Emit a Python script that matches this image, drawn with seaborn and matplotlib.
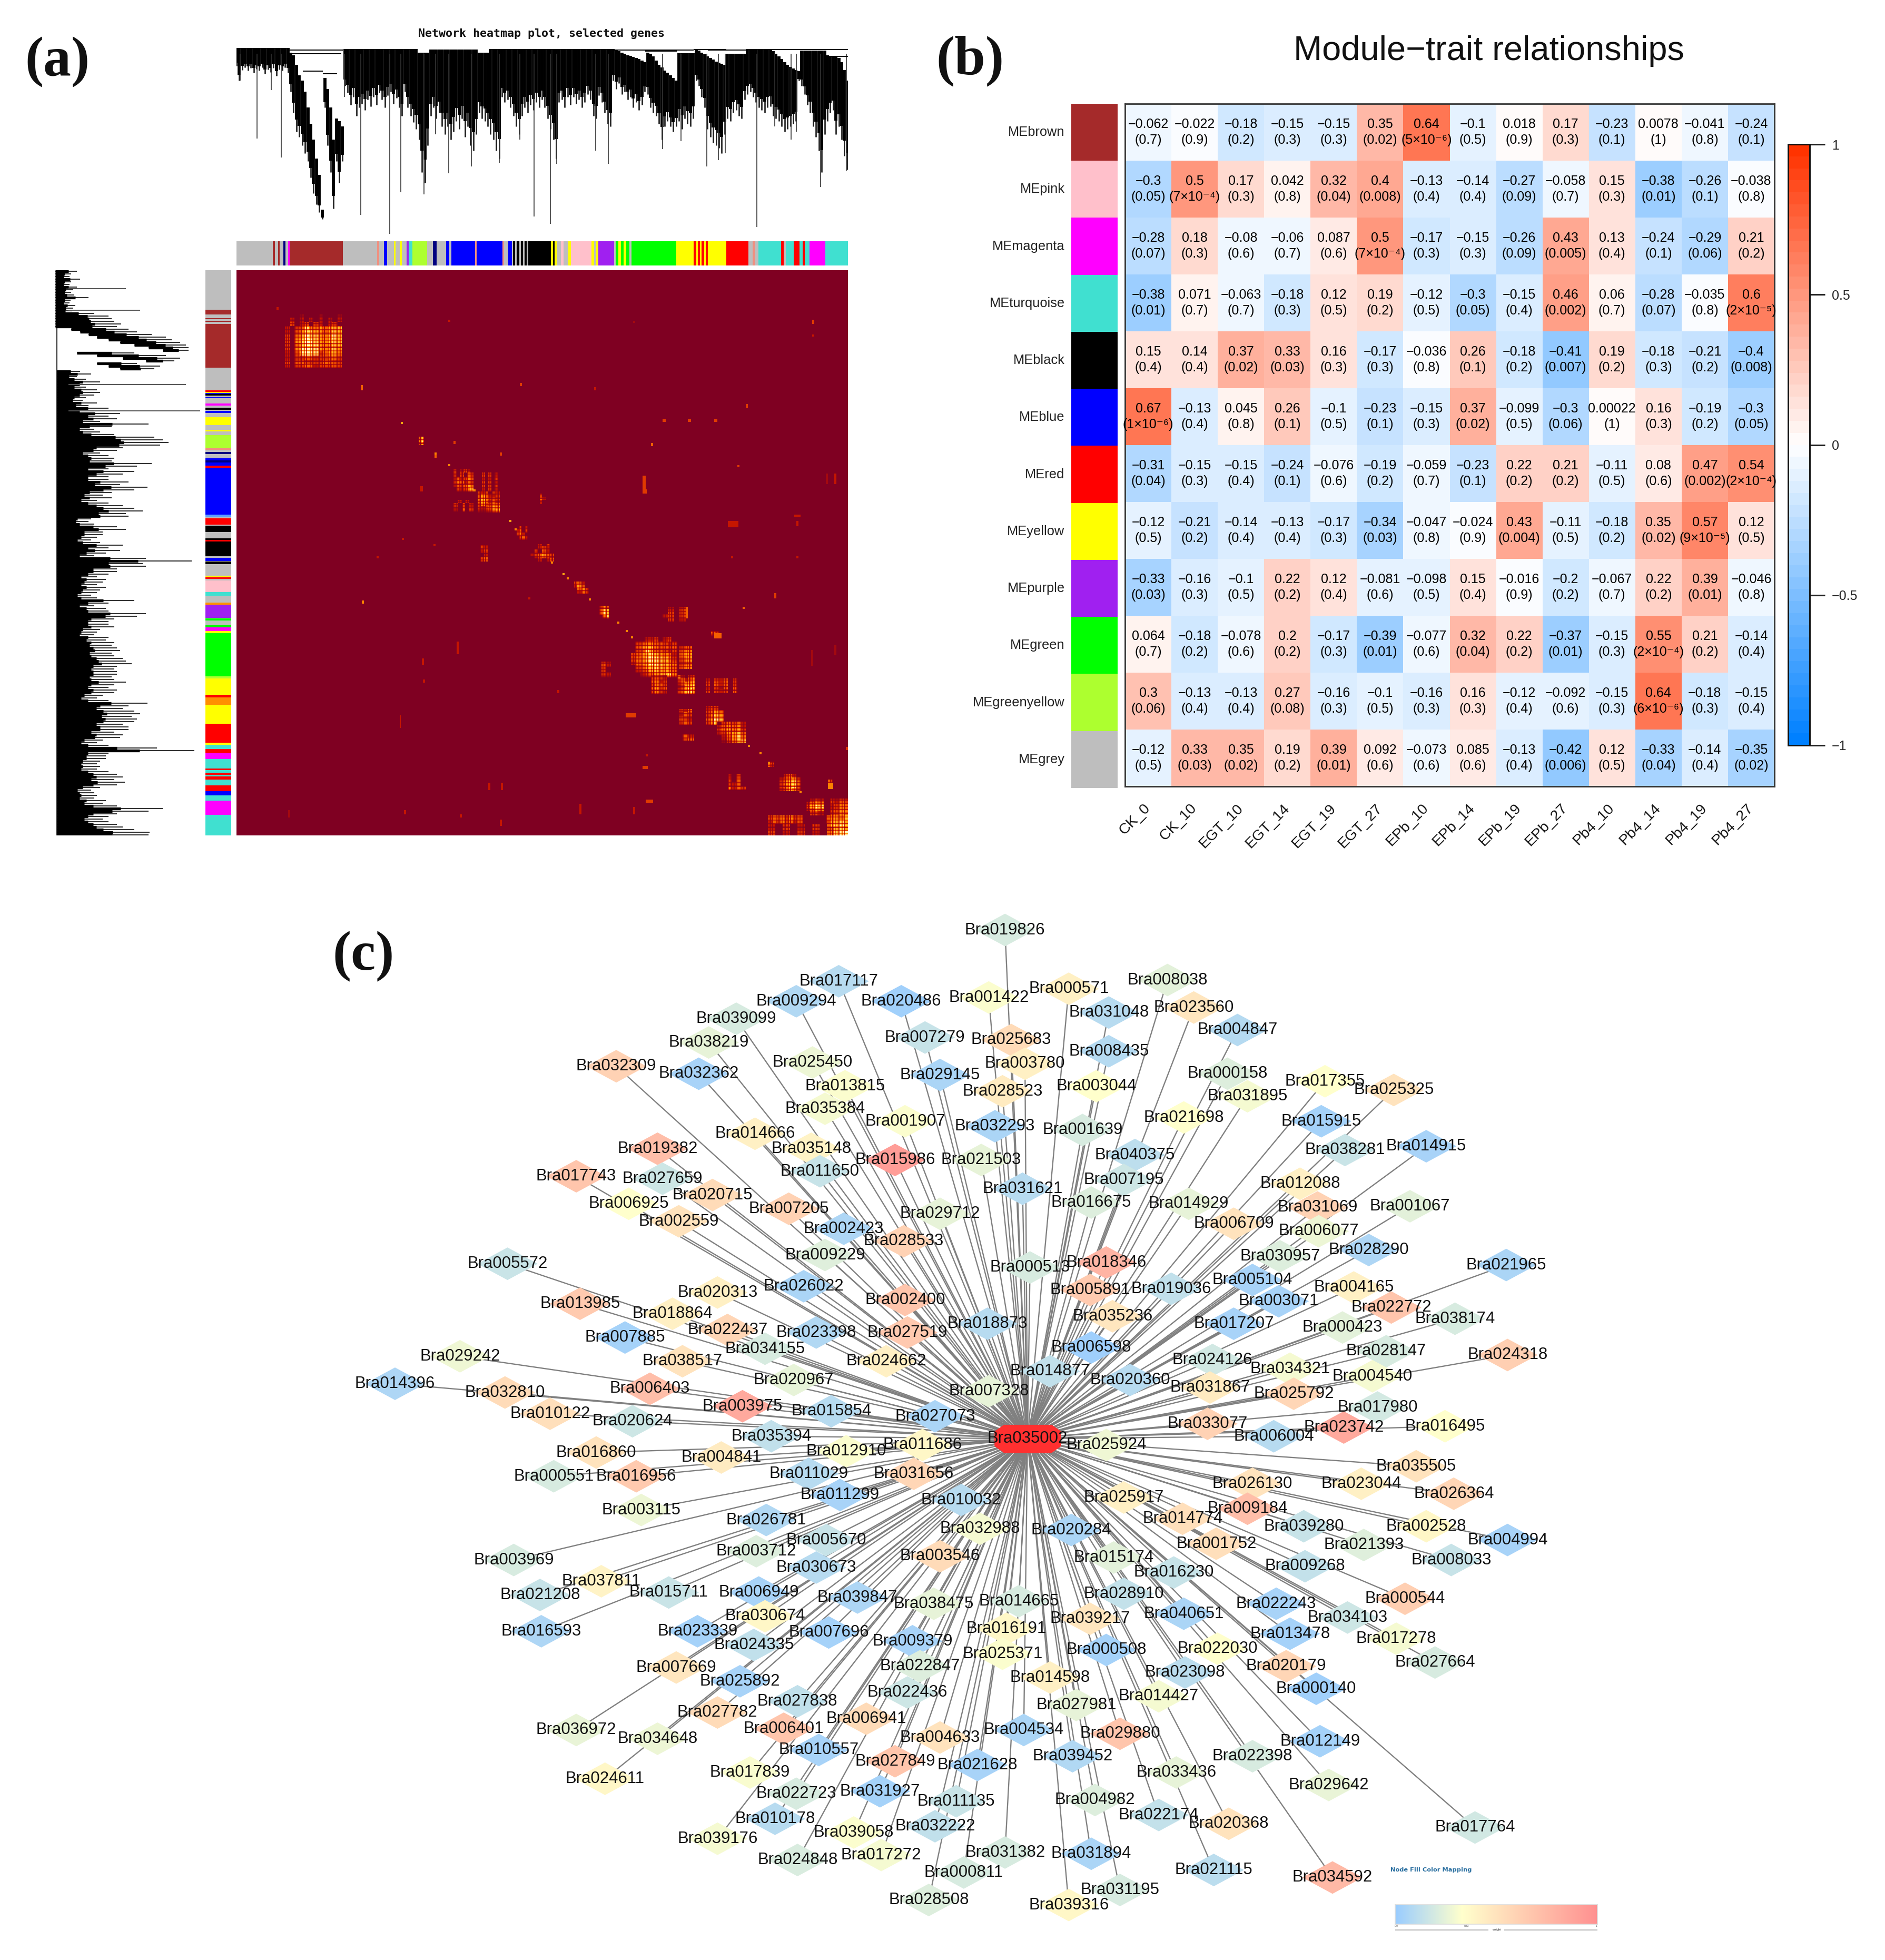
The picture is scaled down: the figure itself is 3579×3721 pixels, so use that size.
import numpy as np
import pandas as pd
import matplotlib
matplotlib.use("Agg")
import matplotlib.pyplot as plt
import seaborn as sns
from matplotlib.colors import LinearSegmentedColormap, ListedColormap
from matplotlib.path import Path

W, H = 3579, 3721

# ---- panel b data
traits = ["CK_0", "CK_10", "EGT_10", "EGT_14", "EGT_19", "EGT_27", "EPb_10", "EPb_14", "EPb_19", "EPb_27", "Pb4_10", "Pb4_14", "Pb4_19", "Pb4_27"]
modules = ["MEbrown", "MEpink", "MEmagenta", "MEturquoise", "MEblack", "MEblue", "MEred", "MEyellow", "MEpurple", "MEgreen", "MEgreenyellow", "MEgrey"]
module_colors = ["#A52A2A", "#FFC0CB", "#FF00FF", "#40E0D0", "#000000", "#0000FF", "#FF0000", "#FFFF00", "#A020F0", "#00FF00", "#ADFF2F", "#BEBEBE"]
corr_text = [
    "-0.062 -0.022 -0.18 -0.15 -0.15 0.35 0.64 -0.1 0.018 0.17 -0.23 0.0078 -0.041 -0.24",
    "-0.3 0.5 0.17 0.042 0.32 0.4 -0.13 -0.14 -0.27 -0.058 0.15 -0.38 -0.26 -0.038",
    "-0.28 0.18 -0.08 -0.06 0.087 0.5 -0.17 -0.15 -0.26 0.43 0.13 -0.24 -0.29 0.21",
    "-0.38 0.071 -0.063 -0.18 0.12 0.19 -0.12 -0.3 -0.15 0.46 0.06 -0.28 -0.035 0.6",
    "0.15 0.14 0.37 0.33 0.16 -0.17 -0.036 0.26 -0.18 -0.41 0.19 -0.18 -0.21 -0.4",
    "0.67 -0.13 0.045 0.26 -0.1 -0.23 -0.15 0.37 -0.099 -0.3 0.00022 0.16 -0.19 -0.3",
    "-0.31 -0.15 -0.15 -0.24 -0.076 -0.19 -0.059 -0.23 0.22 0.21 -0.11 0.08 0.47 0.54",
    "-0.12 -0.21 -0.14 -0.13 -0.17 -0.34 -0.047 -0.024 0.43 -0.11 -0.18 0.35 0.57 0.12",
    "-0.33 -0.16 -0.1 0.22 0.12 -0.081 -0.098 0.15 -0.016 -0.2 -0.067 0.22 0.39 -0.046",
    "0.064 -0.18 -0.078 0.2 -0.17 -0.39 -0.077 0.32 0.22 -0.37 -0.15 0.55 0.21 -0.14",
    "0.3 -0.13 -0.13 0.27 -0.16 -0.1 -0.16 0.16 -0.12 -0.092 -0.15 0.64 -0.18 -0.15",
    "-0.12 0.33 0.35 0.19 0.39 0.092 -0.073 0.085 -0.13 -0.42 0.12 -0.33 -0.14 -0.35",
]
pval_text = [
    "0.7 0.9 0.2 0.3 0.3 0.02 5×10⁻⁶ 0.5 0.9 0.3 0.1 1 0.8 0.1",
    "0.05 7×10⁻⁴ 0.3 0.8 0.04 0.008 0.4 0.4 0.09 0.7 0.3 0.01 0.1 0.8",
    "0.07 0.3 0.6 0.7 0.6 7×10⁻⁴ 0.3 0.3 0.09 0.005 0.4 0.1 0.06 0.2",
    "0.01 0.7 0.7 0.3 0.5 0.2 0.5 0.05 0.4 0.002 0.7 0.07 0.8 2×10⁻⁵",
    "0.4 0.4 0.02 0.03 0.3 0.3 0.8 0.1 0.2 0.007 0.2 0.3 0.2 0.008",
    "1×10⁻⁶ 0.4 0.8 0.1 0.5 0.1 0.3 0.02 0.5 0.06 1 0.3 0.2 0.05",
    "0.04 0.3 0.4 0.1 0.6 0.2 0.7 0.1 0.2 0.2 0.5 0.6 0.002 2×10⁻⁴",
    "0.5 0.2 0.4 0.4 0.3 0.03 0.8 0.9 0.004 0.5 0.2 0.02 9×10⁻⁵ 0.5",
    "0.03 0.3 0.5 0.2 0.4 0.6 0.5 0.4 0.9 0.2 0.7 0.2 0.01 0.8",
    "0.7 0.2 0.6 0.2 0.3 0.01 0.6 0.04 0.2 0.01 0.3 2×10⁻⁴ 0.2 0.4",
    "0.06 0.4 0.4 0.08 0.3 0.5 0.3 0.3 0.4 0.6 0.3 6×10⁻⁶ 0.3 0.4",
    "0.5 0.03 0.02 0.2 0.01 0.6 0.6 0.6 0.4 0.006 0.5 0.04 0.4 0.02",
]

# ---- panel a data: module colour bars (start of each segment)
module_hex = {"g": "#BEBEBE", "br": "#A52A2A", "bl": "#0000FF", "k": "#000000", "m": "#FF00FF", "r": "#FF0000", "y": "#FFFF00", "pi": "#FFC0CB",
              "pu": "#A020F0", "gn": "#00FF00", "gy": "#ADFF2F", "t": "#40E0D0", "n": "#000080", "o": "#FF9000", "sa": "#F09080", "lb": "#60A0FF"}
top_segments = [(414, "g"), (478, "br"), (481, "g"), (487, "br"), (490, "g"), (496, "n"), (500, "g"), (504, "m"), (507, "br"), (600, "g"), (660, "sa"), (664, "g"),
                (672, "bl"), (678, "g"), (690, "y"), (693, "g"), (700, "y"), (704, "g"), (712, "pu"), (716, "t"), (722, "gy"), (748, "g"), (758, "n"), (765, "g"),
                (781, "bl"), (787, "g"), (790, "bl"), (832, "sa"), (835, "bl"), (880, "sa"), (883, "g"), (890, "bl"), (896, "g"), (898, "k"), (902, "g"), (905, "k"),
                (909, "g"), (912, "k"), (916, "g"), (919, "k"), (922, "g"), (925, "k"), (965, "y"), (968, "k"), (971, "y"), (975, "g"), (982, "pi"), (987, "g"),
                (995, "y"), (1000, "pi"), (1036, "y"), (1040, "g"), (1044, "y"), (1048, "pu"), (1075, "g"), (1078, "gn"), (1083, "y"), (1087, "gn"), (1092, "y"),
                (1097, "gn"), (1102, "g"), (1106, "gn"), (1184, "y"), (1215, "r"), (1219, "y"), (1222, "r"), (1226, "y"), (1229, "r"), (1233, "y"), (1236, "r"),
                (1240, "y"), (1272, "r"), (1311, "g"), (1318, "sa"), (1322, "g"), (1328, "t"), (1368, "r"), (1372, "g"), (1376, "t"), (1390, "r"), (1400, "t"),
                (1406, "r"), (1409, "t"), (1418, "m"), (1445, "t")]
left_segments = [(513, "g"), (588, "br"), (597, "g"), (604, "br"), (606, "g"), (609, "br"), (611, "g"), (615, "br"), (698, "g"), (741, "r"), (744, "y"), (746, "bl"),
                 (748, "k"), (751, "g"), (754, "bl"), (756, "g"), (766, "m"), (770, "g"), (774, "k"), (778, "g"), (780, "bl"), (784, "g"), (792, "y"), (807, "g"),
                 (816, "y"), (819, "g"), (826, "gy"), (851, "sa"), (854, "g"), (858, "n"), (862, "g"), (870, "bl"), (874, "n"), (878, "bl"), (884, "r"), (888, "bl"),
                 (977, "lb"), (982, "g"), (984, "r"), (996, "g"), (998, "k"), (1010, "g"), (1022, "k"), (1025, "r"), (1028, "k"), (1056, "g"), (1059, "bl"), (1065, "g"),
                 (1066, "k"), (1071, "g"), (1093, "y"), (1095, "g"), (1096, "r"), (1099, "g"), (1102, "pi"), (1124, "t"), (1131, "g"), (1144, "o"), (1148, "pu"),
                 (1173, "g"), (1174, "gn"), (1178, "g"), (1187, "gn"), (1191, "m"), (1198, "y"), (1202, "gn"), (1284, "gy"), (1288, "y"), (1319, "r"), (1324, "o"),
                 (1338, "y"), (1374, "r"), (1410, "y"), (1414, "t"), (1422, "r"), (1430, "m"), (1441, "t"), (1459, "r"), (1462, "t"), (1467, "r"), (1471, "t"),
                 (1474, "r"), (1480, "t"), (1491, "r"), (1502, "bl"), (1510, "t"), (1520, "m"), (1547, "t")]

# clusters of the topological overlap map: x0, x1, y0, y1, then rows of strength digits
heat_blocks = [
    (542, 650, 597, 699, ["000100010001", "020202020202", "030230320230", "203485564677", "204688764687", "305798865797", "306899865787", "305899965687", "306999965686", "204999934675", "203344333453", "304433334443", "203344233343"]),
    (795, 810, 830, 846, ["470", "580", "360"]),
    (862, 900, 892, 933, ["402420", "303043", "242354", "354243", "243465", "032357"]),
    (911, 945, 898, 933, ["030302", "020203", "030302", "030303", "020302"]),
    (908, 949, 933, 973, ["323032", "464223", "575343", "464242", "353354", "323476", "212367"]),
    (862, 900, 949, 971, ["02020", "30302", "20403"]),
    (1025, 1035, 938, 957, ["30", "42", "20"]),
    (981, 1003, 1000, 1025, ["0302", "2403", "3520", "0342"]),
    (1008, 1052, 1033, 1066, ["002030", "002320", "030420", "234643", "023432", "002024"]),
    (911, 927, 1035, 1066, ["32", "23", "02", "34"]),
    (1090, 1117, 1103, 1127, ["3420", "2640", "0463", "0253"]),
    (1138, 1162, 1150, 1173, ["3640", "4870", "4970", "0580"]),
    (1198, 1285, 1210, 1285, ["0002230230", "0345544323", "0467754434", "0348644323", "3467876542", "3568998753", "2567998765", "0346787654", "0234676654", "0023467785"]),
    (1290, 1314, 1225, 1270, ["34", "45", "56", "46", "34", "45"]),
    (1141, 1160, 1255, 1285, ["42", "30", "32"]),
    (1285, 1320, 1282, 1318, ["62034", "35246", "24567", "13678", "24687", "35786"]),
    (1236, 1266, 1282, 1318, ["3432", "4523", "3543", "4634", "3532"]),
    (1339, 1409, 1288, 1315, ["20324030", "30424030", "20314040", "30323040"]),
    (1258, 1301, 1152, 1180, ["0203", "0303", "2303", "0302"]),
    (1350, 1366, 1198, 1207, ["43", "32"]),
    (1339, 1382, 1340, 1375, ["23300", "34640", "35860", "46970", "35860"]),
    (1361, 1415, 1370, 1410, ["034342", "245452", "356563", "235674", "024685", "013578"]),
    (1290, 1322, 1345, 1375, ["3240", "2430", "4320", "3430"]),
    (1295, 1318, 1393, 1405, ["42", "34"]),
    (1480, 1520, 1470, 1502, ["03420", "24563", "36785", "35784", "24653"]),
    (1382, 1415, 1470, 1499, ["2030", "3040", "3240", "5243"]),
    (1571, 1582, 1480, 1495, ["43", "54"]),
    (1458, 1469, 1445, 1456, ["53", "42"]),
    (1529, 1572, 1516, 1547, ["02430", "24650", "36980", "24760", "03420"]),
    (1575, 1610, 1516, 1547, ["3243", "2354", "3465"]),
    (1567, 1610, 1548, 1586, ["45657", "36786", "47897", "34786", "45899"]),
    (1458, 1523, 1548, 1564, ["34453534", "24353424"]),
    (1458, 1570, 1564, 1586, ["20302030", "30203020"]),
]
# the clusters are striped, not solid
stripe_cols = [1, 1, .55, 1, .3, .8, 1, .45, 1, .7, .25, 1, .9, .5, 1, .35, 1]
stripe_rows = [1, .6, 1, 1, .4, .9, 1, .7, .35, 1, 1, .55, 1]
spot_x = [685, 987, 1542, 1542, 1201, 851, 526, 1415, 1127, 1258, 1306, 1355, 862, 1236, 826, 949, 797, 1220, 1220, 1399, 1583, 1567, 1382, 1507, 1512, 764, 824, 716, 1388, 1512, 687, 1469, 1003, 759, 1409, 1301, 867, 802, 804, 1057, 1187, 1355, 1540, 1583, 1225, 1220, 1572, 927, 952, 1225, 1100, 1201, 873, 949, 768, 548, 1605,
          761, 826, 851, 900, 968, 978, 1046, 1068, 1076, 1117, 1171, 1187, 1198, 1420, 1442, 1458, 1517]
spot_y = [732, 727, 607, 635, 610, 607, 583, 768, 736, 796, 796, 796, 838, 841, 860, 860, 924, 903, 929, 884, 900, 900, 990, 978, 990, 1021, 1033, 1055, 1055, 1056, 1140, 1125, 1133, 1358, 1152, 1152, 1217, 1250, 1290, 1310, 1353, 1201, 1234, 1223, 1432, 1453, 1486, 1486, 1486, 1518, 1526, 1532, 1545, 1556, 1537, 1537, 1418,
          802, 860, 881, 930, 987, 1003, 1066, 1087, 1095, 1136, 1180, 1196, 1207, 1413, 1427, 1445, 1502]
spot_w = [4, 4, 4, 4, 4, 4, 4, 4, 4, 6, 6, 6, 4, 4, 4, 4, 6, 6, 8, 4, 4, 4, 20, 12, 4, 4, 4, 4, 4, 4, 4, 4, 4, 3, 4, 4, 4, 4, 4, 4, 20, 14, 4, 4, 4, 10, 10, 4, 4, 14, 4, 4, 4, 4, 4, 4, 4,
          5, 5, 5, 5, 5, 5, 5, 5, 5, 5, 5, 5, 5, 5, 5, 5, 5]
spot_h = [10, 6, 8, 4, 4, 4, 6, 8, 6, 6, 6, 6, 6, 6, 10, 6, 10, 30, 8, 4, 20, 20, 12, 4, 10, 4, 4, 4, 4, 4, 6, 10, 4, 24, 5, 22, 25, 12, 6, 6, 8, 10, 30, 20, 4, 6, 12, 15, 15, 6, 20, 15, 6, 12, 8, 15, 6,
          5, 5, 5, 5, 5, 5, 5, 5, 5, 5, 5, 5, 5, 5, 5, 5, 5]
spot_v = [4, 3, 3, 2, 1, 2, 2, 3, 2, 3, 3, 3, 3, 4, 4, 3, 2, 3, 3, 3, 2, 1, 2, 2, 2, 2, 2, 2, 2, 2, 5, 3, 2, 2, 4, 4, 2, 2, 2, 2, 3, 4, 1, 1, 2, 3, 5, 2, 2, 3, 2, 2, 2, 2, 2, 1, 3,
          6, 5, 5, 5, 6, 5, 5, 6, 5, 5, 5, 5, 5, 5, 5, 5, 5]

# top dendrogram, in 5 unit steps
den_tip = [245, 300, 260, 250, 262, 252, 270, 256, 262, 250, 275, 258, 268, 252, 282, 258, 262, 250, 270,
           340, 420, 490, 510, 540, 570, 600, 660, 720, 760, 790, 815, 400, 540, 640, 775, 600, 680, 600,
           320, 345, 390, 360, 430, 400, 385, 410, 370, 395, 360, 390, 345, 370, 400, 355, 340, 385, 365, 400,
           430, 340, 400, 430, 455, 480, 520, 640, 680, 540, 430, 400, 440, 420, 470, 500, 470, 520, 490, 450,
           480, 440, 510, 470, 540, 560, 500, 420, 440, 450, 470, 500, 520, 560, 590, 360, 380, 370, 400, 430,
           470, 500, 430, 400, 420, 390, 410, 380, 400, 370, 400, 440, 480, 520, 590, 380, 370, 400, 360, 390,
           360, 385, 370, 400, 380, 350, 370, 430, 440, 355, 380, 420, 460, 470, 300, 330, 310, 350, 340, 370,
           360, 400, 380, 410, 390, 340, 350, 400, 420, 430, 460, 520, 470, 450, 470, 490, 470, 450, 480, 440,
           460, 470, 440, 300, 320, 360, 400, 480, 510, 530, 540, 550, 570, 500, 440, 450, 420, 410, 430, 440,
           370, 350, 340, 360, 380, 400, 410, 420, 400, 395, 430, 440, 450, 470, 490, 480, 470, 460, 450, 300,
           320, 350, 390, 420, 470, 510, 560, 640, 500, 450, 420, 410, 500, 470, 520, 580, 630]
den_top = [178] * 19 + [195, 205, 240, 280, 300, 340, 400, 460, 520, 590, 650, 780, 290, 330, 400, 520, 440, 450, 470] \
    + [182] * 26 + [195] * 4 + [184] * 17 + [195] * 4 + [182] * 44 \
    + [186, 190, 195, 200, 205, 208, 212, 216, 220, 225, 230] + [195, 200, 210, 225, 240, 250, 262, 270, 280, 290, 300] + [198] * 6 \
    + [182, 188, 195, 202, 210, 215, 222, 228, 232, 236, 240] + [200] * 7 + [182] * 8 \
    + [186, 190, 200, 210, 220, 230, 240, 248, 255, 260, 265] + [188] * 9 + [205, 208, 210, 212, 215, 230, 260, 300]
spike_x = [450, 492, 632, 682, 702, 786, 825, 874, 935, 964, 975, 1043, 1065, 1238, 1258, 1325, 1437, 1395, 910, 1160, 1193, 1357, 1385, 1270, 1482, 763, 742, 420, 475, 603]
spike_end = [515, 585, 800, 870, 715, 645, 620, 605, 805, 832, 610, 560, 610, 620, 595, 845, 695, 490, 520, 555, 525, 470, 520, 570, 635, 500, 722, 300, 335, 360]
link_x0 = [505, 530, 505, 1130, 1240, 1345, 1075, 1445, 565, 1215]
link_x1 = [600, 565, 598, 1185, 1310, 1485, 1215, 1485, 590, 1272]
link_y = [185, 265, 200, 190, 185, 184, 186, 210, 275, 183]

# left dendrogram, one value per 5 px going down from y = 515
side_start = [97] * 22 + [125, 140, 155, 170, 190, 210, 235, 260, 285, 135, 170, 215, 255, 170, 190, 210]
side_reach = [135, 125, 122, 140, 125, 122, 135, 128, 125, 130, 155, 124, 122, 132, 128, 126, 165, 190, 195, 200, 212, 205,
              225, 240, 265, 290, 300, 315, 325, 330, 330, 235, 290, 315, 305, 240, 280, 270,
              140, 160, 135, 150, 175, 165, 150, 170, 175, 165, 150, 145, 170, 155, 190, 165, 210, 190, 205, 175,
              260, 195, 165, 175, 200, 270, 285, 295, 280, 215, 205, 175, 190, 200, 195, 265, 240, 190, 235, 215, 190, 190, 225, 210, 258, 235, 195, 180, 195, 170,
              190, 215, 235, 250, 220, 225, 160, 155, 165, 205, 220, 180, 180, 170, 160, 175, 215, 190, 210, 185, 165, 255, 335, 250, 255, 205, 205, 190, 170, 185,
              180, 170, 185, 175, 170, 160, 170, 235, 190, 165, 185, 190, 255, 240, 200, 190, 190, 200, 175, 170, 165, 190, 185, 200, 195, 205, 210, 195, 200, 215,
              220, 230, 205, 200, 205, 205, 195, 200, 220, 200, 190, 205, 200, 180, 170, 190, 258, 225, 215, 235, 245, 230, 240, 235, 215, 225, 225, 200, 215, 210,
              180, 170, 190, 275, 340, 190, 185, 185, 175, 170, 175, 170, 190, 205, 215, 200, 218, 205, 175, 160, 165, 170, 165, 185, 180, 205, 285, 260, 205, 190,
              180, 190, 205, 215, 235, 262, 260]
side_spike_y = [548, 589, 730, 780]
side_spike_reach = [220, 245, 325, 350]

# ---- panel c data: network nodes as label centre x, y and weight
hub = ("Bra035002", 822, 1151)
nodes_top = [
    ("Bra019826", 804, 744, .2), ("Bra017117", 671, 785, .1), ("Bra009294", 637, 801, .08), ("Bra020486", 721, 801, .03), ("Bra001422", 791, 798, .32),
    ("Bra000571", 855, 791, .42), ("Bra008038", 934, 784, .24), ("Bra039099", 589, 815, .2), ("Bra031048", 887, 810, .1), ("Bra023560", 955, 806, .48),
    ("Bra007279", 740, 830, .15), ("Bra025683", 809, 832, .55), ("Bra004847", 990, 824, .09), ("Bra038219", 567, 834, .25), ("Bra008435", 887, 841, .09),
    ("Bra032309", 493, 853, .6), ("Bra032362", 559, 859, .05), ("Bra025450", 650, 850, .27), ("Bra003780", 820, 851, .42), ("Bra029145", 752, 860, .06),
    ("Bra000158", 982, 859, .22), ("Bra013815", 676, 869, .32), ("Bra017355", 1060, 865, .33), ("Bra028523", 802, 873, .45), ("Bra003044", 877, 869, .33),
    ("Bra025325", 1115, 872, .5), ("Bra031895", 998, 877, .3), ("Bra035384", 660, 887, .3), ("Bra001907", 724, 897, .32), ("Bra021698", 947, 894, .33),
    ("Bra032293", 796, 901, .06), ("Bra001639", 866, 904, .2), ("Bra015915", 1057, 897, .04), ("Bra014666", 604, 907, .42), ("Bra035148", 649, 919, .4),
    ("Bra019382", 526, 919, .72), ("Bra040375", 908, 924, .12), ("Bra038281", 1076, 920, .16), ("Bra014915", 1141, 917, .05), ("Bra015986", 716, 928, .92),
    ("Bra021503", 785, 928, .25), ("Bra011650", 656, 937, .15), ("Bra031621", 818, 951, .1), ("Bra007195", 899, 944, .17), ("Bra017743", 461, 941, .68),
    ("Bra027659", 530, 943, .17), ("Bra012088", 1040, 947, .42), ("Bra020715", 570, 956, .55), ("Bra016675", 873, 962, .22), ("Bra014929", 951, 963, .25),
    ("Bra031069", 1054, 966, .6), ("Bra001067", 1128, 965, .24), ("Bra006925", 503, 963, .33), ("Bra007205", 631, 967, .6), ("Bra029712", 752, 971, .25),
    ("Bra002559", 543, 977, .5), ("Bra006709", 987, 979, .5), ("Bra002423", 675, 983, .07), ("Bra006077", 1055, 985, .27), ("Bra028533", 723, 993, .6),
]
nodes_middle = [
    ("Bra030957", 1024, 1005, .22), ("Bra028290", 1095, 1000, .07), ("Bra009229", 660, 1004, .23), ("Bra021965", 1205, 1012, .06), ("Bra005572", 406, 1011, .16),
    ("Bra000513", 824, 1014, .2), ("Bra018346", 885, 1010, .78), ("Bra005104", 1002, 1024, .05), ("Bra026022", 643, 1029, .06), ("Bra019036", 937, 1031, .13),
    ("Bra005891", 872, 1032, .65), ("Bra020313", 574, 1034, .42), ("Bra004165", 1083, 1030, .42), ("Bra013985", 464, 1043, .65), ("Bra003071", 1023, 1041, .05),
    ("Bra002400", 724, 1040, .68), ("Bra022772", 1113, 1046, .68), ("Bra018864", 538, 1051, .42), ("Bra035236", 890, 1053, .48), ("Bra038174", 1164, 1055, .2),
    ("Bra018873", 790, 1059, .1), ("Bra017207", 987, 1059, .05), ("Bra000423", 1074, 1062, .24), ("Bra022437", 582, 1064, .58), ("Bra023398", 653, 1066, .08),
    ("Bra027519", 726, 1066, .66), ("Bra007885", 500, 1070, .04), ("Bra006598", 873, 1078, .02), ("Bra034155", 612, 1079, .2), ("Bra024126", 970, 1088, .18),
    ("Bra028147", 1109, 1081, .2), ("Bra024318", 1206, 1084, .62), ("Bra024662", 709, 1089, .42), ("Bra029242", 368, 1085, .28), ("Bra038517", 546, 1089, .5),
    ("Bra034321", 1032, 1095, .3), ("Bra004540", 1098, 1101, .3), ("Bra014877", 840, 1097, .13), ("Bra014396", 316, 1107, .07), ("Bra020360", 904, 1104, .1),
    ("Bra006403", 520, 1111, .72), ("Bra032810", 404, 1114, .55), ("Bra020967", 635, 1104, .25), ("Bra031867", 968, 1110, .45), ("Bra025792", 1035, 1115, .58),
    ("Bra007328", 791, 1113, .25), ("Bra010122", 440, 1131, .52), ("Bra015854", 665, 1129, .1), ("Bra003975", 594, 1125, .85), ("Bra027073", 748, 1133, .06),
    ("Bra020624", 506, 1137, .17), ("Bra017980", 1102, 1126, .19), ("Bra033077", 966, 1139, .6), ("Bra023742", 1075, 1142, .85), ("Bra016495", 1156, 1141, .33),
    ("Bra035394", 617, 1149, .13), ("Bra006004", 1019, 1149, .1), ("Bra011686", 738, 1156, .38), ("Bra025924", 885, 1156, .28), ("Bra012910", 677, 1161, .32),
    ("Bra016860", 477, 1162, .5), ("Bra004841", 577, 1166, .45), ("Bra035505", 1133, 1173, .5), ("Bra011029", 647, 1179, .1), ("Bra000551", 443, 1181, .2),
    ("Bra016956", 509, 1181, .65), ("Bra031656", 731, 1179, .58), ("Bra023044", 1089, 1187, .42), ("Bra026130", 1002, 1187, .5), ("Bra026364", 1163, 1195, .58),
]
nodes_lower = [
    ("Bra011299", 672, 1196, .05), ("Bra010032", 769, 1200, .1), ("Bra009184", 998, 1207, .72), ("Bra025917", 899, 1198, .42), ("Bra003115", 513, 1208, .27),
    ("Bra014774", 946, 1215, .52), ("Bra026781", 613, 1216, .08), ("Bra039280", 1043, 1221, .15), ("Bra002528", 1141, 1221, .38), ("Bra032988", 784, 1223, .3),
    ("Bra020284", 857, 1224, .06), ("Bra005670", 661, 1232, .15), ("Bra004994", 1206, 1232, .05), ("Bra001752", 973, 1235, .52), ("Bra021393", 1091, 1236, .23),
    ("Bra003712", 605, 1241, .22), ("Bra003546", 752, 1245, .55), ("Bra015174", 891, 1246, .24), ("Bra008033", 1161, 1248, .15), ("Bra003969", 411, 1248, .2),
    ("Bra009268", 1044, 1253, .14), ("Bra016230", 939, 1258, .15), ("Bra030673", 653, 1254, .1), ("Bra037811", 481, 1265, .4), ("Bra021208", 432, 1276, .15),
    ("Bra015711", 535, 1274, .16), ("Bra006949", 607, 1274, .05), ("Bra039847", 686, 1278, .07), ("Bra038475", 747, 1283, .25), ("Bra014665", 815, 1281, .2),
    ("Bra028910", 899, 1275, .14), ("Bra022243", 1021, 1283, .05), ("Bra000544", 1124, 1279, .62), ("Bra030674", 612, 1293, .38), ("Bra034103", 1078, 1294, .17),
    ("Bra039217", 872, 1295, .48), ("Bra040651", 947, 1291, .06), ("Bra016593", 433, 1305, .07), ("Bra023339", 558, 1305, .04), ("Bra016191", 805, 1303, .38),
    ("Bra007696", 663, 1306, .04), ("Bra013478", 1032, 1307, .04), ("Bra017278", 1117, 1311, .3), ("Bra024335", 603, 1316, .13), ("Bra009379", 730, 1313, .05),
    ("Bra000508", 885, 1320, .04), ("Bra022030", 974, 1319, .33), ("Bra025371", 802, 1323, .32), ("Bra020179", 1029, 1333, .58), ("Bra023098", 948, 1338, .11),
    ("Bra027664", 1148, 1330, .2), ("Bra007669", 541, 1334, .48), ("Bra022847", 736, 1333, .22), ("Bra014598", 840, 1342, .42), ("Bra025892", 592, 1345, .05),
]
nodes_bottom = [
    ("Bra000140", 1053, 1351, .03), ("Bra022436", 726, 1354, .17), ("Bra014427", 927, 1357, .3), ("Bra027838", 638, 1361, .13), ("Bra027981", 861, 1364, .25),
    ("Bra027782", 574, 1370, .55), ("Bra006941", 693, 1375, .55), ("Bra006401", 627, 1383, .68), ("Bra029880", 896, 1387, .68), ("Bra004633", 752, 1390, .5),
    ("Bra036972", 461, 1384, .26), ("Bra034648", 526, 1391, .27), ("Bra004534", 819, 1384, .06), ("Bra012149", 1056, 1393, .04), ("Bra010557", 655, 1400, .05),
    ("Bra039452", 858, 1405, .08), ("Bra022398", 1002, 1405, .2), ("Bra027849", 716, 1409, .68), ("Bra021628", 782, 1412, .05), ("Bra017839", 600, 1418, .31),
    ("Bra033436", 941, 1418, .25), ("Bra024611", 484, 1423, .38), ("Bra029642", 1063, 1428, .26), ("Bra022723", 637, 1435, .2), ("Bra031927", 704, 1433, .04),
    ("Bra011135", 765, 1441, .16), ("Bra004982", 876, 1440, .22), ("Bra010178", 620, 1455, .1), ("Bra022174", 927, 1452, .14), ("Bra020368", 983, 1459, .5),
    ("Bra032222", 748, 1461, .13), ("Bra017764", 1180, 1462, .18), ("Bra039058", 683, 1466, .32), ("Bra039176", 574, 1471, .3), ("Bra017272", 705, 1484, .3),
    ("Bra031382", 804, 1482, .2), ("Bra031894", 873, 1483, .06), ("Bra024848", 638, 1488, .21), ("Bra021115", 971, 1496, .11), ("Bra000811", 771, 1498, .2),
    ("Bra034592", 1066, 1502, .75), ("Bra031195", 896, 1512, .2), ("Bra039316", 855, 1524, .38), ("Bra028508", 743, 1520, .22),
]

sns.set_theme(style="white")
plt.rcParams["font.family"] = ["Liberation Sans", "DejaVu Sans"]
fig = plt.figure(figsize=(W / 100, H / 100), dpi=100, facecolor="white")


def px_axes(x0, y0, x1, y1):
    return fig.add_axes([x0 / W, 1 - y1 / H, (x1 - x0) / W, (y1 - y0) / H])


# ---- panel a
toms = LinearSegmentedColormap.from_list("tom", ["#7F0022", "#C01000", "#F05000", "#FF9000", "#FFC830", "#FFF8C0"])
hm_x0, hm_x1, hm_y0, hm_y1 = 449, 1610, 513, 1586
cell = 2
tom = np.zeros(((hm_y1 - hm_y0) // cell, (hm_x1 - hm_x0) // cell))
for x0, x1, y0, y1, rows in heat_blocks:
    rh = (y1 - y0) / len(rows)
    for r, row in enumerate(rows):
        cw = (x1 - x0) / len(row)
        for c, ch in enumerate(row):
            j0 = int((y0 + r * rh - hm_y0) / cell)
            j1 = int((y0 + (r + 1) * rh - hm_y0) / cell)
            i0 = int((x0 + c * cw - hm_x0) / cell)
            i1 = int((x0 + (c + 1) * cw - hm_x0) / cell)
            tom[j0:j1, i0:i1] = int(ch)
col_mask = np.array(stripe_cols)[np.arange(tom.shape[1]) % len(stripe_cols)]
row_mask = np.array(stripe_rows)[np.arange(tom.shape[0]) % len(stripe_rows)]
tom = tom * np.outer(row_mask, col_mask)
for x, y, w, h, v in zip(spot_x, spot_y, spot_w, spot_h, spot_v):
    j = (y - hm_y0) // cell
    i = (x - hm_x0) // cell
    tom[j:j + max(h // cell, 1), i:i + max(w // cell, 1)] = v

ax_tom = px_axes(hm_x0, hm_y0, hm_x1, hm_y1)
sns.heatmap(tom, ax=ax_tom, cmap=toms, vmin=0, vmax=9, cbar=False, xticklabels=False, yticklabels=False, rasterized=True)

ax_top = px_axes(hm_x0, 458, hm_x1, 504)
top_start = [s[0] for s in top_segments]
ax_top.bar(top_start, 1, width=np.diff(top_start + [1485]), align="edge", color=[module_hex[s[1]] for s in top_segments], linewidth=0)
ax_top.set_xlim(414, 1485)
ax_top.set_ylim(0, 1)
ax_top.axis("off")

ax_left = px_axes(390, hm_y0, 439, hm_y1)
left_start = [s[0] for s in left_segments]
ax_left.barh(left_start, 1, height=np.diff(left_start + [hm_y1]), align="edge", color=[module_hex[s[1]] for s in left_segments], linewidth=0)
ax_left.set_ylim(hm_y1, hm_y0)
ax_left.set_xlim(0, 1)
ax_left.axis("off")

ax_den = px_axes(hm_x0, 91, hm_x1, 444)
den_x = 414 + 5 * np.arange(len(den_tip))
den_tip_a = np.array(den_tip, float)
den_top_a = np.array(den_top, float)
ax_den.vlines(den_x, den_top_a, den_tip_a, color="#1a1a1a", lw=1.9)
ax_den.vlines(den_x, den_top_a, den_top_a + 0.82 * (den_tip_a - den_top_a), color="black", lw=4.2)
ax_den.vlines(spike_x, 200, spike_end, color="#333333", lw=1.2)
ax_den.hlines(link_y, link_x0, link_x1, color="black", lw=1.4)
ax_den.set_xlim(414, 1485)
ax_den.set_ylim(870, 178)
ax_den.axis("off")

ax_side = px_axes(105, hm_y0, 380, hm_y1)
side_y = 515 + 5 * np.arange(len(side_reach))
start = np.array(side_start + [100] * (len(side_reach) - len(side_start)), float)
reach = np.array(side_reach, float)
ax_side.hlines(side_y, start, reach, color="#333333", lw=1.5)
ax_side.hlines(side_y, start, start + 0.6 * (reach - start), color="black", lw=3.8)
ax_side.hlines(side_spike_y, 120, side_spike_reach, color="#555555", lw=1.4)
ax_side.vlines(100, 595, 1586, color="black", lw=1.2)
ax_side.set_xlim(97, 350)
ax_side.set_ylim(hm_y1, hm_y0)
ax_side.axis("off")

fig.text(1028 / W, 1 - 64 / H, "Network heatmap plot, selected genes", family="DejaVu Sans Mono", weight="bold", fontsize=15.6, ha="center", va="center", color="#111111")

# ---- panel b
corr = np.array([[float(v) for v in row.split()] for row in corr_text])
pvals = [row.split() for row in pval_text]
annot = np.array([[f"{c}\n({p})".replace("-", "−") for c, p in zip(cr.split(), pr)] for cr, pr in zip(corr_text, pvals)])
bwr = LinearSegmentedColormap.from_list("bwr50", ["#0080FF", "#FFFFFF", "#FF3300"], N=50)

ax_b = px_axes(2136, 197, 3369, 1493)
cax = px_axes(3395, 274, 3436, 1415)
sns.heatmap(corr, ax=ax_b, cmap=bwr, vmin=-1, vmax=1, annot=annot, fmt="",
            annot_kws={"fontsize": 18, "color": "black", "linespacing": 1.3},
            cbar_ax=cax, cbar_kws={"ticks": [-1, -0.5, 0, 0.5, 1]},
            xticklabels=traits, yticklabels=False)
ax_b.set_xticklabels(traits, rotation=45, ha="right", va="center", rotation_mode="anchor", fontsize=20.5, color="#111111")
ax_b.tick_params(axis="x", length=0, pad=27, bottom=True)
for side in ax_b.spines.values():
    side.set_visible(True)
    side.set_color("#333333")
    side.set_linewidth(2)
cax.tick_params(axis="y", length=21, width=2.2, labelsize=18, pad=9, right=True, color="#222222")
cax.set_yticklabels(["−1", "−0.5", "0", "0.5", "1"])
for side in cax.spines.values():
    side.set_visible(True)
    side.set_color("#111111")
    side.set_linewidth(1.8)

ax_strip = px_axes(2034, 197, 2122, 1496)
sns.heatmap(np.arange(len(modules))[:, None], ax=ax_strip, cmap=ListedColormap(module_colors), cbar=False, xticklabels=False, yticklabels=modules)
ax_strip.tick_params(axis="y", length=0, labelsize=18.3, rotation=0, pad=9, labelcolor="#222222", left=True)

fig.text(2827 / W, 1 - 97 / H, "Module−trait relationships", fontsize=46.7, ha="center", va="center", color="#111111")

# ---- panel c
node_cmap = LinearSegmentedColormap.from_list("node", [(0, "#99CCFF"), (.33, "#FFFFCC"), (1, "#FF9090")])
nodes = pd.DataFrame(nodes_top + nodes_middle + nodes_lower + nodes_bottom, columns=["name", "x", "y", "weight"])

ax_c = fig.add_axes([0, 0, 1, 1], facecolor="none")
for _, nd in nodes.iterrows():
    ax_c.plot([hub[1], nd.x], [hub[2], nd.y], color="#808080", lw=1.7, zorder=1, solid_capstyle="butt")
diamond = Path([(-1, 0), (0, .54), (1, 0), (0, -.54), (-1, 0)], closed=True)
sns.scatterplot(data=nodes, x="x", y="y", hue="weight", hue_norm=(0, 1), palette=node_cmap, marker=diamond, s=6800,
                linewidth=0, legend=False, ax=ax_c, zorder=2)
octagon = Path([(-1, -.22), (-.72, -.42), (.72, -.42), (1, -.22), (1, .22), (.72, .42), (-.72, .42), (-1, .22), (-1, -.22)], closed=True)
ax_c.scatter([hub[1]], [hub[2]], marker=octagon, s=8300, color="#FF3030", linewidth=0, zorder=3)
for _, nd in nodes.iterrows():
    ax_c.text(nd.x, nd.y, nd["name"], fontsize=22.4, ha="center", va="center", color="#111111", zorder=4)
ax_c.text(hub[1], hub[2], hub[0], fontsize=22.4, ha="center", va="center", color="#111111", zorder=4)
ax_c.set_xlim(0, W / (3579 / 1508))
ax_c.set_ylim(H / (3721 / 1568), 0)
ax_c.set_axis_off()

# node colour legend
fig.text(2717 / W, 1 - 3550 / H, "Node Fill Color Mapping", family="DejaVu Sans", weight="bold", fontsize=8.2, ha="center", va="center", color="#2A6FA0")
ax_grad = px_axes(2649, 3616, 3033, 3653)
sns.heatmap(np.linspace(0, 1, 256)[None, :], ax=ax_grad, cmap=node_cmap, vmin=0, vmax=1, cbar=False, xticklabels=False, yticklabels=False)
for side in ax_grad.spines.values():
    side.set_visible(True)
    side.set_color("#DDDDDD")
    side.set_linewidth(1.2)
for tx, tlab in zip([2651, 2784, 3031], ["0.0", "0.33", "1"]):
    fig.text(tx / W, 1 - 3656 / H, tlab, fontsize=3.5, ha="center", va="center", color="#555555")
ax_line = px_axes(2649, 3660, 3033, 3668)
ax_line.hlines(0.5, 0, 0.46, color="#BBBBBB", lw=1.5)
ax_line.hlines(0.5, 0.54, 1, color="#BBBBBB", lw=1.5)
ax_line.set_xlim(0, 1)
ax_line.set_ylim(0, 1)
ax_line.axis("off")
fig.text(2842 / W, 1 - 3664 / H, "weight", fontsize=4.2, ha="center", va="center", color="#222222")

# panel letters
for lx, ly, letter in [(109, 118, "(a)"), (1842, 116, "(b)"), (690, 1816, "(c)")]:
    fig.text(lx / W, 1 - ly / H, letter, family="Liberation Serif", weight="bold", fontsize=76, ha="center", va="center", color="#111111")

fig.savefig("out.png", dpi=100, facecolor="white")
